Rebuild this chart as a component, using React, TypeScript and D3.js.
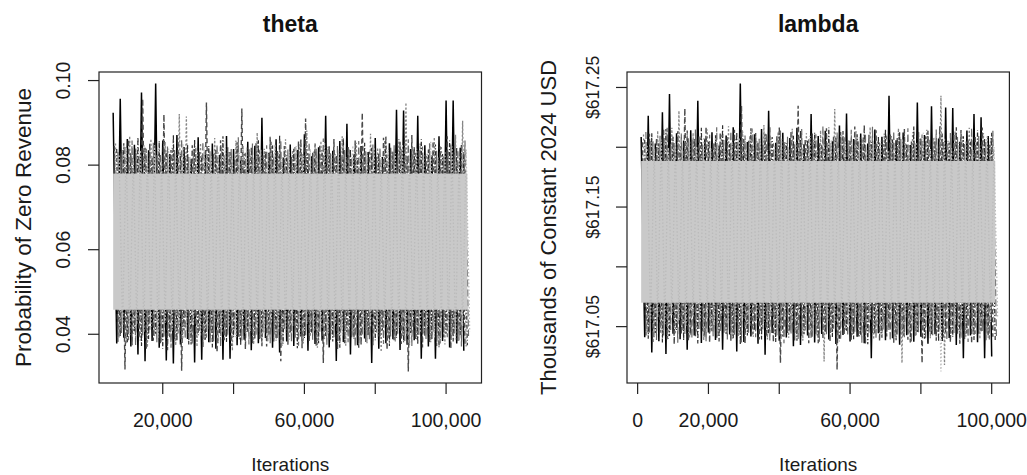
import React from "react";
import * as d3 from "d3";

// ---------- theta panel data (iterations 6,000 – 106,000, 50 bins per chain) ----------
const thetaIterRange = [6000, 106000];
const thetaHiA = [.0924,.0957,.0862,.0848,.0972,.0835,.0993,.0858,.0826,.0871,
  .0843,.0815,.0866,.0832,.0851,.0824,.0869,.0838,.0812,.0855,
  .0846,.0912,.0829,.0861,.0818,.0849,.0836,.0873,.0821,.0842,
  .0917,.0834,.0857,.0898,.0826,.0845,.0831,.0864,.0819,.0852,
  .0931,.0929,.0838,.0917,.0847,.0823,.0868,.0953,.0953,.0841];
const thetaHiB = [.0845,.0828,.0861,.0839,.0957,.0852,.0824,.0920,.0836,.0858,
  .0817,.0847,.0831,.0948,.0826,.0859,.0842,.0815,.0934,.0838,
  .0852,.0823,.0867,.0834,.0845,.0819,.0856,.0910,.0829,.0848,
  .0837,.0862,.0821,.0843,.0858,.0924,.0832,.0819,.0865,.0841,
  .0827,.0853,.0871,.0836,.0822,.0857,.0844,.0868,.0831,.0849];
const thetaHiC = [.0851,.0836,.0869,.0828,.0847,.0862,.0833,.0855,.0841,.0921,
  .0915,.0838,.0852,.0827,.0864,.0843,.0831,.0858,.0846,.0823,
  .0877,.0839,.0856,.0828,.0861,.0835,.0849,.0882,.0832,.0857,
  .0844,.0826,.0868,.0837,.0853,.0829,.0874,.0841,.0858,.0834,
  .0862,.0948,.0838,.0851,.0827,.0866,.0845,.0833,.0872,.0905];
const thetaHiD = [.0823,.0841,.0816,.0835,.0828,.0847,.0812,.0839,.0825,.0851,
  .0819,.0836,.0844,.0821,.0833,.0858,.0817,.0829,.0842,.0814,
  .0837,.0826,.0849,.0818,.0832,.0845,.0822,.0838,.0815,.0853,
  .0827,.0834,.0819,.0846,.0831,.0824,.0842,.0817,.0836,.0828,
  .0849,.0821,.0839,.0826,.0855,.0818,.0833,.0844,.0823,.0837];
const thetaHiE = [.0838,.0852,.0829,.0866,.0841,.0819,.0857,.0834,.0872,.0826,
  .0849,.0861,.0823,.0845,.0836,.0868,.0831,.0854,.0827,.0843,
  .0859,.0832,.0847,.0871,.0824,.0839,.0862,.0828,.0851,.0835,
  .0846,.0823,.0864,.0838,.0817,.0853,.0841,.0829,.0869,.0833,
  .0856,.0822,.0844,.0861,.0837,.0849,.0826,.0858,.0842,.0831];
const thetaHiF = [.0831,.0846,.0858,.0822,.0839,.0853,.0827,.0844,.0836,.0862,
  .0819,.0841,.0855,.0833,.0848,.0824,.0838,.0866,.0829,.0851,
  .0835,.0847,.0821,.0859,.0837,.0843,.0826,.0854,.0839,.0863,
  .0828,.0845,.0836,.0818,.0857,.0832,.0849,.0841,.0825,.0847,
  .0838,.0861,.0829,.0844,.0852,.0834,.0821,.0849,.0836,.0858];
const thetaLoA = [.0378,.0392,.0371,.0352,.0336,.0384,.0368,.0338,.0331,.0376,
  .0389,.0333,.0340,.0381,.0366,.0340,.0342,.0374,.0387,.0362,
  .0379,.0391,.0368,.0357,.0383,.0372,.0395,.0361,.0377,.0385,
  .0369,.0337,.0382,.0352,.0374,.0390,.0332,.0366,.0379,.0388,
  .0363,.0375,.0386,.0342,.0371,.0342,.0384,.0369,.0378,.0361];
const thetaLoB = [.0382,.0317,.0374,.0391,.0366,.0385,.0379,.0362,.0388,.0314,
  .0376,.0393,.0369,.0381,.0357,.0386,.0372,.0394,.0365,.0378,
  .0389,.0371,.0383,.0336,.0375,.0392,.0367,.0384,.0373,.0332,
  .0387,.0364,.0379,.0391,.0368,.0382,.0374,.0395,.0363,.0386,
  .0377,.0312,.0389,.0369,.0381,.0372,.0393,.0366,.0384,.0375];
const thetaLoC = [.0392,.0378,.0401,.0385,.0369,.0396,.0382,.0407,.0374,.0389,
  .0398,.0371,.0386,.0403,.0379,.0394,.0361,.0388,.0405,.0376,
  .0391,.0383,.0399,.0372,.0387,.0404,.0378,.0395,.0368,.0389,
  .0401,.0384,.0373,.0397,.0386,.0379,.0402,.0358,.0391,.0383,
  .0396,.0374,.0388,.0403,.0381,.0392,.0376,.0399,.0385,.0371];
const thetaLoD = [.0412,.0398,.0424,.0405,.0418,.0392,.0427,.0409,.0415,.0401,
  .0421,.0396,.0413,.0428,.0404,.0417,.0393,.0422,.0408,.0414,
  .0399,.0426,.0411,.0403,.0419,.0395,.0424,.0407,.0416,.0402,
  .0423,.0397,.0412,.0425,.0406,.0418,.0394,.0421,.0409,.0415,
  .0400,.0427,.0404,.0417,.0392,.0423,.0410,.0385,.0419,.0406];
const thetaLoE = [.0395,.0381,.0407,.0372,.0389,.0401,.0366,.0393,.0384,.0409,
  .0376,.0398,.0387,.0369,.0403,.0382,.0394,.0373,.0406,.0388,
  .0371,.0399,.0385,.0378,.0402,.0367,.0391,.0404,.0379,.0396,
  .0383,.0368,.0405,.0389,.0374,.0397,.0386,.0409,.0372,.0392,
  .0381,.0403,.0376,.0395,.0387,.0369,.0401,.0383,.0398,.0374];
const thetaLoF = [.0403,.0386,.0374,.0398,.0411,.0381,.0395,.0368,.0402,.0389,
  .0377,.0405,.0392,.0383,.0371,.0399,.0408,.0385,.0376,.0396,
  .0404,.0379,.0391,.0412,.0382,.0373,.0398,.0387,.0406,.0375,
  .0393,.0409,.0381,.0371,.0397,.0388,.0404,.0377,.0395,.0401,
  .0384,.0372,.0399,.0389,.0406,.0378,.0393,.0402,.0371,.0396];
const thetaBand = [0.0458, 0.0780];
const thetaXTicks = [20000, 40000, 60000, 80000, 100000];
const thetaXLabels = [20000, 60000, 100000];
const thetaYTicks = [0.04, 0.06, 0.08, 0.10];
const thetaYLabels = [0.04, 0.06, 0.08, 0.10];

// ---------- lambda panel data (iterations 1,000 – 101,000) ----------
const lambdaIterRange = [1000, 101000];
const lambdaHiA = [617.2085,617.2264,617.2032,617.2292,617.2445,617.2118,617.2056,617.2143,617.2389,617.2071,
  617.2126,617.2015,617.2098,617.2167,617.2533,617.2044,617.2109,617.2152,617.2306,617.2037,
  617.2121,617.2078,617.2163,617.2026,617.2278,617.2094,617.2137,617.2051,617.2182,617.2283,
  617.2069,617.2115,617.2031,617.2148,617.2087,617.2431,617.2058,617.2124,617.2019,617.2375,
  617.2102,617.2342,617.2074,617.2333,617.2328,617.2046,617.2139,617.2278,617.2250,617.2093];
const lambdaHiB = [617.2041,617.2113,617.2076,617.2158,617.2029,617.2134,617.2325,617.2062,617.2097,617.2171,
  617.2038,617.2125,617.2083,617.2146,617.2347,617.2055,617.2119,617.2024,617.2168,617.2091,
  617.2047,617.2136,617.2347,617.2072,617.2115,617.2033,617.2159,617.2088,617.2127,617.2045,
  617.2173,617.2066,617.2104,617.2142,617.2027,617.2118,617.2081,617.2155,617.2049,617.2131,
  617.2092,617.2064,617.2176,617.2037,617.2112,617.2145,617.2058,617.2097,617.2166,617.2021];
const lambdaHiC = [617.2106,617.2052,617.2138,617.2079,617.2164,617.2306,617.2043,617.2121,617.2087,617.2149,
  617.2034,617.2112,617.2175,617.2068,617.2131,617.2095,617.2052,617.2186,617.2073,617.2128,
  617.2041,617.2154,617.2089,617.2117,617.2063,617.2142,617.2036,617.2320,617.2101,617.2058,
  617.2135,617.2082,617.2169,617.2047,617.2114,617.2093,617.2158,617.2039,617.2126,617.2071,
  617.2147,617.2085,617.2431,617.2054,617.2133,617.2098,617.2162,617.2044,617.2119,617.2077];
const lambdaHiD = [617.2012,617.1984,617.2065,617.1997,617.2038,617.1972,617.2051,617.2006,617.2083,617.1989,
  617.2027,617.1968,617.2044,617.2079,617.1993,617.2035,617.2058,617.1976,617.2019,617.2072,
  617.1987,617.2041,617.2003,617.2096,617.1979,617.2024,617.2063,617.1995,617.2048,617.2009,
  617.2087,617.1982,617.2031,617.2055,617.1974,617.2016,617.2068,617.1998,617.2042,617.2121,
  617.1985,617.2029,617.2076,617.1991,617.2037,617.2054,617.1978,617.2013,617.2089,617.2001];
const lambdaHiE = [617.2063,617.2118,617.2034,617.2152,617.2087,617.2011,617.2139,617.2072,617.2164,617.2046,
  617.2101,617.2183,617.2028,617.2127,617.2069,617.2158,617.2041,617.2112,617.2085,617.2171,
  617.2033,617.2096,617.2144,617.2059,617.2122,617.2017,617.2165,617.2078,617.2136,617.2052,
  617.2109,617.2187,617.2043,617.2093,617.2151,617.2066,617.2129,617.2024,617.2174,617.2081,
  617.2137,617.2056,617.2115,617.2038,617.2168,617.2091,617.2047,617.2143,617.2075,617.2121];
const lambdaHiF = [617.2128,617.2051,617.2097,617.2162,617.2036,617.2114,617.2078,617.2149,617.2023,617.2105,
  617.2167,617.2061,617.2132,617.2045,617.2098,617.2156,617.2072,617.2118,617.2034,617.2141,
  617.2089,617.2026,617.2153,617.2067,617.2109,617.2178,617.2042,617.2124,617.2083,617.2146,
  617.2057,617.2113,617.2172,617.2039,617.2096,617.2134,617.2068,617.2159,617.2031,617.2107,
  617.2074,617.2148,617.2052,617.2119,617.2085,617.2027,617.2161,617.2094,617.2043,617.2138];
const lambdaLoA = [617.0412,617.0283,617.0378,617.0272,617.0441,617.0395,617.0306,617.0427,617.0363,617.0452,
  617.0389,617.0306,617.0434,617.0292,617.0371,617.0418,617.0356,617.0264,617.0447,617.0382,
  617.0409,617.0336,617.0347,617.0425,617.0368,617.0439,617.0392,617.0354,617.0431,617.0376,
  617.0415,617.0361,617.0236,617.0444,617.0387,617.0402,617.0349,617.0428,617.0373,617.0416,
  617.0358,617.0437,617.0381,617.0405,617.0346,617.0236,617.0426,617.0369,617.0236,617.0250];
const lambdaLoB = [617.0426,617.0371,617.0448,617.0394,617.0352,617.0437,617.0383,617.0419,617.0461,617.0366,
  617.0408,617.0443,617.0377,617.0421,617.0358,617.0435,617.0392,617.0414,617.0369,617.0195,
  617.0446,617.0385,617.0423,617.0362,617.0439,617.0398,617.0374,617.0139,617.0431,617.0387,
  617.0413,617.0356,617.0442,617.0379,617.0418,617.0365,617.0436,617.0391,617.0424,617.0195,
  617.0447,617.0382,617.0409,617.0368,617.0433,617.0397,617.0359,617.0441,617.0386,617.0415];
const lambdaLoC = [617.0457,617.0412,617.0481,617.0396,617.0438,617.0469,617.0405,617.0452,617.0387,617.0474,
  617.0421,617.0463,617.0399,617.0446,617.0478,617.0415,617.0458,617.0392,617.0436,617.0471,
  617.0408,617.0449,617.0383,617.0466,617.0427,617.0208,617.0455,617.0401,617.0472,617.0432,
  617.0418,617.0461,617.0394,617.0443,617.0476,617.0411,617.0195,617.0453,617.0428,617.0467,
  617.0402,617.0448,617.0180,617.0435,617.0473,617.0416,617.0459,617.0397,617.0442,617.0468];
const lambdaLoD = [617.0543,617.0578,617.0521,617.0596,617.0552,617.0507,617.0584,617.0536,617.0568,617.0515,
  617.0591,617.0547,617.0529,617.0573,617.0504,617.0562,617.0538,617.0587,617.0519,617.0556,
  617.0532,617.0594,617.0548,617.0511,617.0576,617.0541,617.0527,617.0565,617.0503,617.0582,
  617.0537,617.0558,617.0516,617.0589,617.0545,617.0524,617.0571,617.0509,617.0553,617.0586,
  617.0534,617.0125,617.0567,617.0518,617.0549,617.0592,617.0528,617.0561,617.0539,617.0574];
const lambdaLoE = [617.0398,617.0446,617.0367,617.0421,617.0473,617.0385,617.0432,617.0359,617.0414,617.0462,
  617.0376,617.0438,617.0403,617.0351,617.0427,617.0469,617.0392,617.0445,617.0371,617.0417,
  617.0458,617.0383,617.0436,617.0404,617.0362,617.0449,617.0412,617.0378,617.0466,617.0395,
  617.0429,617.0353,617.0441,617.0407,617.0472,617.0386,617.0423,617.0368,617.0455,617.0399,
  617.0434,617.0374,617.0451,617.0416,617.0357,617.0443,617.0389,617.0461,617.0409,617.0372];
const lambdaLoF = [617.0451,617.0389,617.0426,617.0472,617.0365,617.0438,617.0404,617.0481,617.0377,617.0419,
  617.0456,617.0392,617.0433,617.0368,617.0447,617.0411,617.0476,617.0384,617.0429,617.0361,
  617.0443,617.0397,617.0468,617.0415,617.0373,617.0437,617.0482,617.0391,617.0424,617.0458,
  617.0366,617.0441,617.0403,617.0477,617.0382,617.0435,617.0412,617.0369,617.0453,617.0396,
  617.0428,617.0479,617.0387,617.0446,617.0408,617.0371,617.0439,617.0464,617.0393,617.0421];
const lambdaBand = [617.0700, 617.1885];
const lambdaXTicks = [0, 20000, 40000, 60000, 80000, 100000];
const lambdaXLabels = [0, 20000, 60000, 100000];
const lambdaYTicks = [617.05, 617.10, 617.15, 617.20, 617.25];
const lambdaYLabels = [617.05, 617.15, 617.25];

const FONT = "'Liberation Sans', Arial, sans-serif";

// chains in drawing order; the light-grey chain (index 5) is drawn last, over the band
const chainStyles = [
  { stroke: "#000000", dash: "none", width: 1.5 },
  { stroke: "#4a4a4a", dash: "5,3", width: 1.4 },
  { stroke: "#858585", dash: "2,2", width: 1.3 },
  { stroke: "#2e2e2e", dash: "4,2,1,2", width: 1.2 },
  { stroke: "#6a6a6a", dash: "7,3", width: 1.2 },
  { stroke: "#bbbbbb", dash: "1.5,2", width: 1.3 },
];

type PanelProps = {
  title: string;
  ylabel: string;
  iterRange: number[];
  his: number[][];
  los: number[][];
  band: number[];
  xTicks: number[];
  xLabels: number[];
  yTicks: number[];
  yLabels: number[];
  yFmt: (v: number) => string;
  box: { x0: number; x1: number; y0: number; y1: number };
  yTickTextX: number;
  yTickSize: number;
  yLabelX: number;
  yLabelSize: number;
};

function pad(lo: number, hi: number) {
  const r = hi - lo;
  return [lo - 0.04 * r, hi + 0.04 * r];
}

function Panel(p: PanelProps) {
  const { box } = p;
  const allHi = d3.max(p.his.flat()) as number;
  const allLo = d3.min(p.los.flat()) as number;
  const xs = d3.scaleLinear().domain(pad(p.iterRange[0], p.iterRange[1])).range([box.x0, box.x1]);
  const ys = d3.scaleLinear().domain(pad(allLo, allHi)).range([box.y1, box.y0]);
  const n = p.his[0].length;
  const nc = p.his.length;
  const step = (p.iterRange[1] - p.iterRange[0]) / n;
  const line = d3.line<[number, number]>().x((d) => xs(d[0])).y((d) => ys(d[1]));
  const chainPath = (c: number) => {
    const pts: [number, number][] = [];
    const off = ((c * 7) % nc) / nc;
    for (let i = 0; i < n; i++) {
      pts.push([p.iterRange[0] + step * (i + off), p.his[c][i]]);
      pts.push([p.iterRange[0] + step * (i + off + 0.5), p.los[c][i]]);
    }
    return line(pts) as string;
  };
  const xFmt = d3.format(",");
  const cx = (box.x0 + box.x1) / 2;
  const cy = (box.y0 + box.y1) / 2;
  const clipId = "clip" + p.title;
  const last = nc - 1;
  return (
    <g fontFamily={FONT}>
      <defs>
        <clipPath id={clipId}>
          <rect x={box.x0} y={box.y0} width={box.x1 - box.x0} height={box.y1 - box.y0} />
        </clipPath>
      </defs>
      <g clipPath={`url(#${clipId})`}>
        {d3.range(last).map((c) => (
          <path key={c} d={chainPath(c)} fill="none" stroke={chainStyles[c].stroke}
            strokeWidth={chainStyles[c].width} strokeDasharray={chainStyles[c].dash} />
        ))}
        <rect x={xs(p.iterRange[0])} width={xs(p.iterRange[1]) - xs(p.iterRange[0])}
          y={ys(p.band[1])} height={ys(p.band[0]) - ys(p.band[1])} fill="#c9c9c9" />
        <path d={chainPath(last)} fill="none" stroke={chainStyles[last].stroke}
          strokeWidth={chainStyles[last].width} strokeDasharray={chainStyles[last].dash} />
      </g>
      <rect x={box.x0} y={box.y0} width={box.x1 - box.x0} height={box.y1 - box.y0}
        fill="none" stroke="#222" strokeWidth={1.2} />
      {p.xTicks.map((t) => (
        <line key={t} x1={xs(t)} x2={xs(t)} y1={box.y1} y2={box.y1 + 11} stroke="#222" strokeWidth={1.2} />
      ))}
      {p.xLabels.map((t) => (
        <text key={t} x={xs(t)} y={427} textAnchor="middle" fontSize={19.5} fill="#1a1a1a">
          {xFmt(t)}
        </text>
      ))}
      {p.yTicks.map((t) => (
        <line key={t} x1={box.x0 - 11} x2={box.x0} y1={ys(t)} y2={ys(t)} stroke="#222" strokeWidth={1.2} />
      ))}
      {p.yLabels.map((t) => (
        <text key={t} transform={`translate(${p.yTickTextX},${ys(t)}) rotate(-90)`}
          textAnchor="middle" fontSize={p.yTickSize} fill="#1a1a1a">
          {p.yFmt(t)}
        </text>
      ))}
      <text x={cx} y={31.5} textAnchor="middle" fontSize={23} fontWeight="bold" fill="#111">
        {p.title}
      </text>
      <text x={cx} y={471} textAnchor="middle" fontSize={19} fill="#1a1a1a">
        Iterations
      </text>
      <text transform={`translate(${p.yLabelX},${cy}) rotate(-90)`} textAnchor="middle"
        fontSize={p.yLabelSize} fill="#1a1a1a">
        {p.ylabel}
      </text>
    </g>
  );
}

export default function App() {
  return (
    <svg width={1027} height={475} style={{ position: "absolute", left: 0, top: 0, background: "#fff" }}>
      <rect width={1027} height={475} fill="#fff" />
      <Panel
        title="theta"
        ylabel="Probability of Zero Revenue"
        iterRange={thetaIterRange}
        his={[thetaHiA, thetaHiB, thetaHiC, thetaHiE, thetaHiF, thetaHiD]}
        los={[thetaLoA, thetaLoB, thetaLoC, thetaLoE, thetaLoF, thetaLoD]}
        band={thetaBand}
        xTicks={thetaXTicks}
        xLabels={thetaXLabels}
        yTicks={thetaYTicks}
        yLabels={thetaYLabels}
        yFmt={d3.format(".2f")}
        box={{ x0: 99, x1: 481.5, y0: 72, y1: 383 }}
        yTickTextX={70}
        yTickSize={19.5}
        yLabelX={31}
        yLabelSize={22.5}
      />
      <Panel
        title="lambda"
        ylabel="Thousands of Constant 2024 USD"
        iterRange={lambdaIterRange}
        his={[lambdaHiA, lambdaHiB, lambdaHiC, lambdaHiE, lambdaHiF, lambdaHiD]}
        los={[lambdaLoA, lambdaLoB, lambdaLoC, lambdaLoE, lambdaLoF, lambdaLoD]}
        band={lambdaBand}
        xTicks={lambdaXTicks}
        xLabels={lambdaXLabels}
        yTicks={lambdaYTicks}
        yLabels={lambdaYLabels}
        yFmt={(v) => "$" + d3.format(".2f")(v)}
        box={{ x0: 627, x1: 1009.4, y0: 72, y1: 383 }}
        yTickTextX={599}
        yTickSize={17.5}
        yLabelX={556}
        yLabelSize={22}
      />
    </svg>
  );
}
